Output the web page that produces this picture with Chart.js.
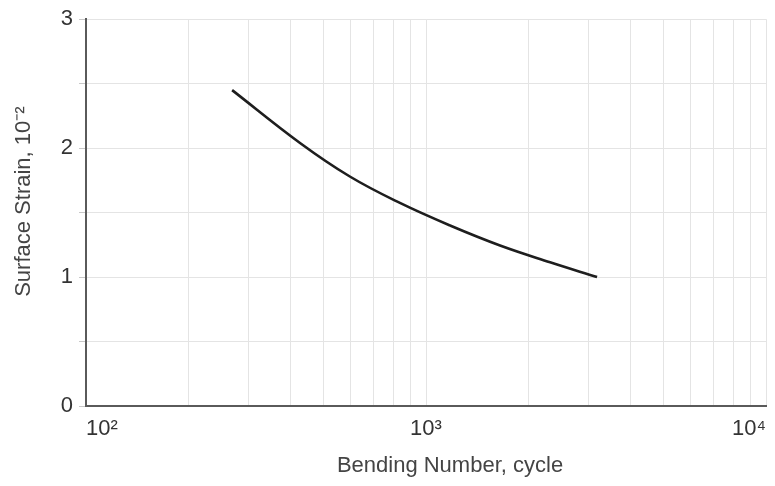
<!DOCTYPE html>
<html>
<head>
<meta charset="utf-8">
<script src="https://cdn.jsdelivr.net/npm/chart.js@4/dist/chart.umd.min.js"></script>
<style>
  html, body { margin: 0; padding: 0; background: #ffffff; }
  #wrap { width: 775px; height: 486px; }
</style>
</head>
<body>
<div id="wrap"><canvas id="c" width="775" height="486"></canvas></div>
<script>
// Fatigue curve: surface strain versus number of bending cycles
const bendingCycles = [269, 426, 597, 838, 1177, 1651, 2317, 3185];
const surfaceStrain = [2.45, 2.04, 1.78, 1.575, 1.40, 1.245, 1.115, 1.00];

// Vertical grid lines at every 1..9 x 10^n, labels only on the decades
const xGridValues = [100, 200, 300, 400, 500, 600, 700, 800, 900,
                     1000, 2000, 3000, 4000, 5000, 6000, 7000, 8000, 9000, 10000];
const xDecadeLabels = { 100: '10²', 1000: '10³', 10000: '10⁴' };

// Horizontal grid every 0.5, labels on the whole numbers
const yTickLabels = { 0: '0', 1: '1', 2: '2', 3: '3' };

const xTitle = 'Bending Number, cycle';
const yTitle = 'Surface Strain, 10⁻²';

const points = bendingCycles.map((n, i) => ({ x: n, y: surfaceStrain[i] }));

const FONT = "'Liberation Sans', Arial, sans-serif";

// Axis titles placed a little off the plot centre, as in the original figure
const axisTitles = {
  id: 'axisTitles',
  afterDraw(chart) {
    const { ctx, chartArea } = chart;
    ctx.save();
    ctx.fillStyle = '#444444';
    ctx.font = '22px ' + FONT;
    ctx.textAlign = 'center';
    ctx.textBaseline = 'middle';
    ctx.fillText(xTitle, (chartArea.left + chartArea.right) / 2 + 24, chartArea.bottom + 60);
    ctx.translate(24, (chartArea.top + chartArea.bottom) / 2 - 11);
    ctx.rotate(-Math.PI / 2);
    ctx.fillText(yTitle, 0, 0);
    ctx.restore();
  }
};

new Chart(document.getElementById('c'), {
  type: 'line',
  data: {
    datasets: [{
      data: points,
      borderColor: '#1e1e1e',
      borderWidth: 2.6,
      pointRadius: 0,
      fill: false,
      tension: 0.4
    }]
  },
  plugins: [axisTitles],
  options: {
    responsive: false,
    animation: false,
    layout: { padding: { top: 18, right: 9, left: 0, bottom: 0 } },
    plugins: { legend: { display: false }, tooltip: { enabled: false } },
    scales: {
      x: {
        type: 'logarithmic',
        min: 100,
        max: 10000,
        afterBuildTicks: (scale) => { scale.ticks = xGridValues.map(v => ({ value: v })); },
        afterFit: (scale) => { scale.height = 80; scale.paddingLeft = 0; scale.paddingRight = 0; },
        grid: { color: '#e4e4e4', lineWidth: 1, drawTicks: false },
        border: { display: true, color: '#5a5a5a', width: 2 },
        ticks: {
          autoSkip: false,
          maxRotation: 0,
          align: 'inner',
          padding: 10,
          color: '#333333',
          font: { family: FONT, size: 22 },
          callback: (v) => xDecadeLabels[v] || ''
        }
      },
      y: {
        type: 'linear',
        min: 0,
        max: 3,
        afterFit: (scale) => { scale.width = 86; },
        grid: { color: '#e4e4e4', lineWidth: 1, drawTicks: true, tickLength: 7, tickColor: '#c8c8c8' },
        border: { display: true, color: '#5a5a5a', width: 2 },
        ticks: {
          stepSize: 0.5,
          padding: 6,
          color: '#333333',
          font: { family: FONT, size: 22 },
          callback: (v) => (v in yTickLabels ? yTickLabels[v] : '')
        }
      }
    }
  }
});
</script>
</body>
</html>
